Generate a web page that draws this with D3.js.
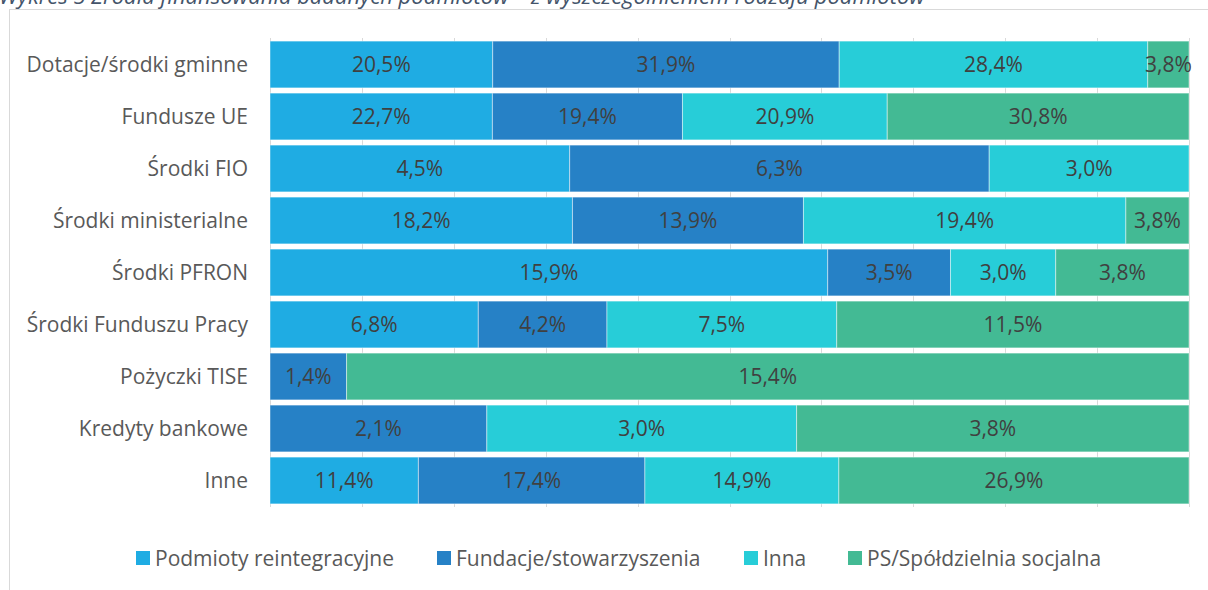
<!DOCTYPE html>
<html lang="pl">
<head>
<meta charset="utf-8">
<title>Wykres 5</title>
<script src="https://cdn.jsdelivr.net/npm/d3@7"></script>
<style>
  body { margin: 0; background: #fff; }
  svg { display: block; font-family: "Open Sans", Lato, sans-serif; }
</style>
</head>
<body>
<script>

// Kategorie (zrodla finansowania)
var categories = ["Dotacje/środki gminne", "Fundusze UE", "Środki FIO", "Środki ministerialne",
                  "Środki PFRON", "Środki Funduszu Pracy", "Pożyczki TISE", "Kredyty bankowe", "Inne"];

var seriesNames = ["Podmioty reintegracyjne", "Fundacje/stowarzyszenia", "Inna", "PS/Spółdzielnia socjalna"];

// wartosci w % (0 = brak etykiety)
var reintegracyjne = [20.5, 22.7, 4.5, 18.2, 15.9, 6.8, 0, 0, 11.4];
var fundacje       = [31.9, 19.4, 6.3, 13.9, 3.5, 4.2, 1.4, 2.1, 17.4];
var inna           = [28.4, 20.9, 3.0, 19.4, 3.0, 7.5, 0, 3.0, 14.9];
var spoldzielnie   = [3.8, 30.8, 0, 3.8, 3.8, 11.5, 15.4, 3.8, 26.9];

var colors = ["#1FACE3", "#2681C6", "#27CDD8", "#43BA94"];

var xTicks = d3.range(0, 1.0001, 0.1);

var title = "Wykres 5 Źródła finansowania badanych podmiotów – z wyszczególnieniem rodzaju podmiotów";

var w = 1208, h = 590;

var svg = d3.select("body").append("svg")
            .attr("width", w)
            .attr("height", h);

// build table for the stack
var allSeries = [reintegracyjne, fundacje, inna, spoldzielnie];
var table = categories.map(function(c, i) {
  var row = {cat: c};
  seriesNames.forEach(function(s, j) { row[s] = allSeries[j][i]; });
  return row;
});

var stacked = d3.stack()
                .keys(seriesNames)
                .offset(d3.stackOffsetExpand)(table);

var xScale = d3.scaleLinear().domain([0, 1]).range([270, 1189]);
var yScale = d3.scaleBand()
               .domain(categories)
               .range([38.5, 506.5])
               .paddingInner(0.1)
               .paddingOuter(0.05);

// title (cut off at the top)
svg.append("text")
   .attr("x", -1)
   .attr("y", 4)
   .attr("font-size", "22px")
   .attr("font-style", "italic")
   .attr("fill", "#44546A")
   .text(title);

// chart border
svg.append("rect")
   .attr("x", 9.5)
   .attr("y", 9.5)
   .attr("width", 1210)
   .attr("height", 600)
   .attr("fill", "none")
   .attr("stroke", "#D9D9D9");

// gridlines
svg.append("g")
   .selectAll("line")
   .data(xTicks)
   .enter()
   .append("line")
   .attr("x1", function(d) { return Math.round(xScale(d)) + 0.5; })
   .attr("x2", function(d) { return Math.round(xScale(d)) + 0.5; })
   .attr("y1", 38)
   .attr("y2", 507)
   .attr("stroke", "#D9D9D9");

// bars
var groups = svg.append("g")
                .selectAll("g")
                .data(stacked)
                .enter()
                .append("g")
                .attr("fill", function(d, i) { return colors[i]; });

groups.selectAll("rect")
      .data(function(d) { return d; })
      .enter()
      .append("rect")
      .attr("x", function(d) { return xScale(d[0]); })
      .attr("y", function(d) { return yScale(d.data.cat); })
      .attr("width", function(d) { return xScale(d[1]) - xScale(d[0]); })
      .attr("height", yScale.bandwidth())
      .attr("stroke", "rgba(255,255,255,0.45)")
      .attr("stroke-width", 1);

// data labels
groups.each(function(s) {
  d3.select(this).selectAll("text")
    .data(s.filter(function(d) { return d.data[s.key] > 0; }))
    .enter()
    .append("text")
    .attr("x", function(d) { return (xScale(d[0]) + xScale(d[1])) / 2; })
    .attr("y", function(d) { return yScale(d.data.cat) + yScale.bandwidth() / 2; })
    .attr("dy", "0.36em")
    .attr("text-anchor", "middle")
    .attr("font-size", "21px")
    .attr("fill", "#404040")
    .text(function(d) { return d3.format(".1f")(d.data[s.key]).replace(".", ",") + "%"; });
});

// category labels
svg.append("g")
   .selectAll("text")
   .data(categories)
   .enter()
   .append("text")
   .attr("x", 248)
   .attr("y", function(d) { return yScale(d) + yScale.bandwidth() / 2; })
   .attr("dy", "0.36em")
   .attr("text-anchor", "end")
   .attr("font-size", "21px")
   .attr("fill", "#595959")
   .text(function(d) { return d; });

// legend
var legendX = [136, 437, 744, 848];
var legend = svg.append("g")
                .selectAll("g")
                .data(seriesNames)
                .enter()
                .append("g")
                .attr("transform", function(d, i) { return "translate(" + legendX[i] + ",558)"; });

legend.append("rect")
      .attr("x", 0)
      .attr("y", -7)
      .attr("width", 14)
      .attr("height", 14)
      .attr("fill", function(d, i) { return colors[i]; });

legend.append("text")
      .attr("x", 19)
      .attr("y", 0)
      .attr("dy", "0.36em")
      .attr("font-size", "21px")
      .attr("fill", "#595959")
      .text(function(d) { return d; });

</script>
</body>
</html>
